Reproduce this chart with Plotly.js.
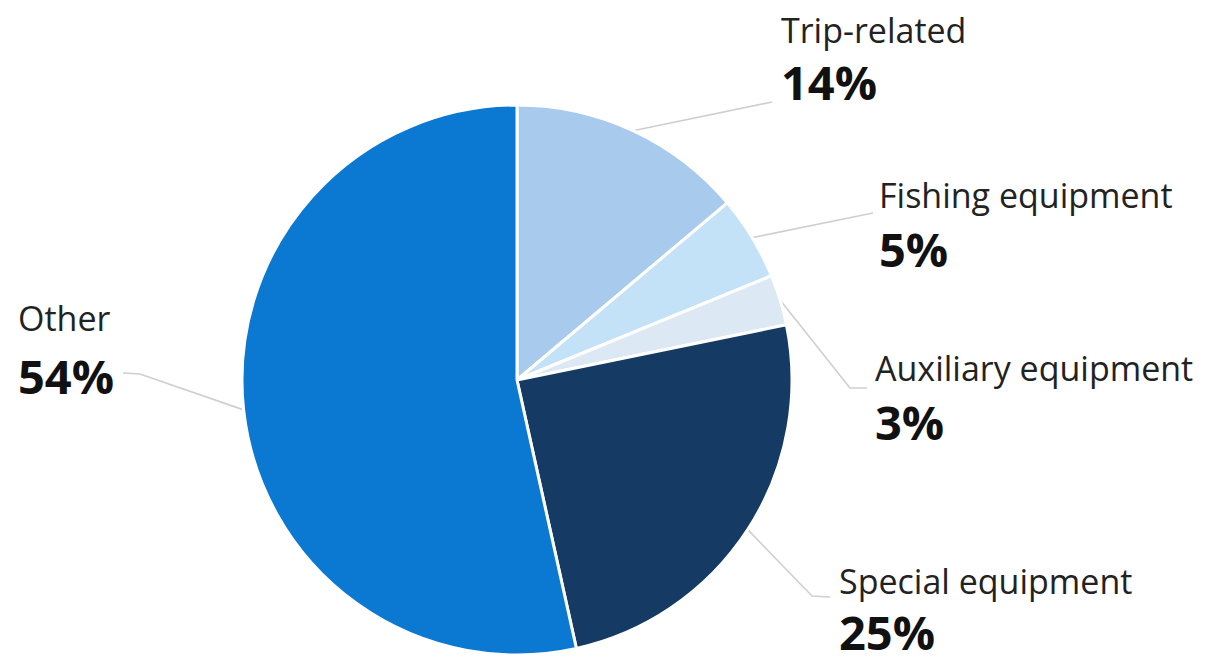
<!DOCTYPE html>
<html><head><meta charset="utf-8">
<script src="https://cdn.plot.ly/plotly-3.0.1.min.js"></script>
<style>html,body{margin:0;padding:0;background:#fff}</style></head>
<body>
<div id="chart" style="width:1207px;height:665px"></div>
<script>
// ---- data ----
const categories = ['Trip-related', 'Fishing equipment', 'Auxiliary equipment', 'Special equipment', 'Other'];
const shares = [14, 5, 3, 25, 54];
const pctLabels = ['14%', '5%', '3%', '25%', '54%'];
const sliceColors = ['#a8caec', '#c3e2f8', '#dce8f3', '#153a63', '#0b78d1'];

// ---- layout (pixels) ----
const W = 1207, H = 665;
const CX = 517, CY = 380, R = 275;
// label anchor: text left x, name centre y, percent centre y, leader bend points
const labelX = [779, 877, 873, 837, 16];
const nameY = [30, 195, 368, 581, 318];
const pctY = [82, 249, 422, 632, 376];
const leaderPts = [
  [[772, 102]],
  [[873, 213]],
  [[850, 388], [867, 388]],
  [[812, 596], [830, 597]],
  [[140, 374], [123, 373]]
];

const px = x => x / W;
const py = y => 1 - y / H;

const total = shares.reduce((a, b) => a + b, 0);
let cum = 0;
const shapes = [];
const annotations = [];
shares.forEach((v, i) => {
  const mid = (cum + v / 2) / total * 2 * Math.PI;
  cum += v;
  const sx = CX + R * Math.sin(mid), sy = CY - R * Math.cos(mid);
  let path = 'M' + px(sx) + ',' + py(sy);
  leaderPts[i].forEach(p => { path += ' L' + px(p[0]) + ',' + py(p[1]); });
  shapes.push({type: 'path', xref: 'paper', yref: 'paper', path: path,
    line: {color: '#cfcfcf', width: 1.6}, layer: 'below'});
  annotations.push({xref: 'paper', yref: 'paper', x: px(labelX[i]), y: py(nameY[i]),
    xanchor: 'left', yanchor: 'middle', showarrow: false, text: categories[i],
    font: {family: 'Open Sans, sans-serif', size: 34, color: '#222'}});
  annotations.push({xref: 'paper', yref: 'paper', x: px(labelX[i]), y: py(pctY[i]),
    xanchor: 'left', yanchor: 'middle', showarrow: false, text: '<b>' + pctLabels[i] + '</b>',
    font: {family: 'Open Sans, sans-serif', size: 47, color: '#111'}});
});

const trace = {
  type: 'pie',
  labels: categories,
  values: shares,
  sort: false,
  direction: 'clockwise',
  rotation: 0,
  textinfo: 'none',
  hoverinfo: 'label+percent',
  marker: {colors: sliceColors, line: {color: '#ffffff', width: 3}},
  domain: {x: [(CX - R) / W, (CX + R) / W], y: [(H - CY - R) / H, (H - CY + R) / H]},
  showlegend: false
};

Plotly.newPlot('chart', [trace], {
  width: W, height: H,
  margin: {l: 0, r: 0, t: 0, b: 0},
  paper_bgcolor: '#fff',
  showlegend: false,
  shapes: shapes,
  annotations: annotations
}, {displayModeBar: false, staticPlot: true});
</script>
</body></html>
